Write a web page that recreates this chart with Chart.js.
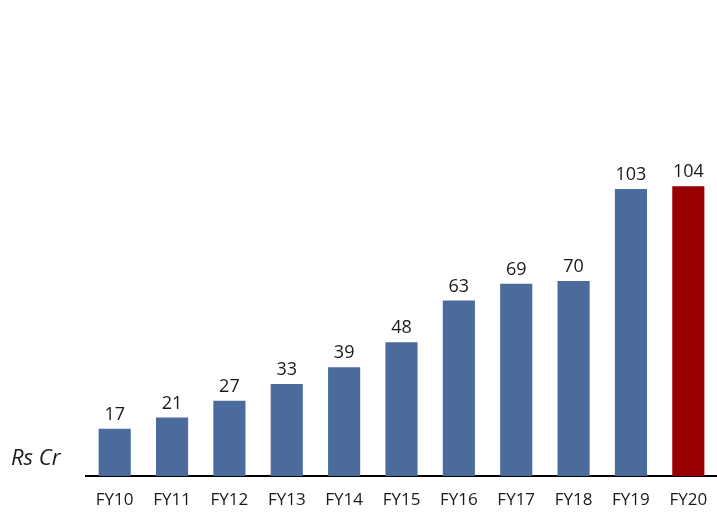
<!DOCTYPE html>
<html>
<head>
<meta charset="utf-8">
<script src="https://cdn.jsdelivr.net/npm/chart.js@4.4.1/dist/chart.umd.min.js"></script>
<style>
  html, body { margin: 0; padding: 0; background: #fff; }
  #wrap { position: relative; width: 717px; height: 512px; }
  #unit { position: absolute; left: 11px; top: 441px; font: italic 22px "Open Sans", sans-serif; color: #1a1a1a; }
</style>
</head>
<body>
<div id="wrap">
  <canvas id="c" width="717" height="512"></canvas>
  <div id="unit">Rs Cr</div>
</div>
<script>
// Revenue by year
const years = ['FY10', 'FY11', 'FY12', 'FY13', 'FY14', 'FY15', 'FY16', 'FY17', 'FY18', 'FY19', 'FY20'];
const values = [17, 21, 27, 33, 39, 48, 63, 69, 70, 103, 104];

const BLUE = '#4A6B9B';
const RED = '#990000';

// value labels above each bar
const valueLabels = {
    id: 'valueLabels',
    afterDatasetsDraw: (chart) => {
        const ctx = chart.ctx;
        const meta = chart.getDatasetMeta(0);
        ctx.save();
        ctx.font = '18px "Open Sans", sans-serif';
        ctx.fillStyle = '#1a1a1a';
        ctx.textAlign = 'center';
        ctx.textBaseline = 'bottom';
        meta.data.forEach((bar, i) => {
            ctx.fillText(values[i], bar.x, bar.y - 5);
        });
        ctx.restore();
    }
};

new Chart(document.getElementById('c'), {
    type: 'bar',
    data: {
        labels: years,
        datasets: [{
            data: values,
            backgroundColor: values.map((v, i) => i === values.length - 1 ? RED : BLUE),
            barPercentage: 0.56,
            categoryPercentage: 1.0
        }]
    },
    options: {
        responsive: false,
        animation: false,
        layout: { padding: { left: 86, top: 58, right: 0, bottom: 0 } },
        plugins: { legend: { display: false }, tooltip: { enabled: false } },
        scales: {
            x: {
                grid: { display: false },
                border: { color: '#000', width: 2 },
                ticks: { color: '#1a1a1a', font: { family: 'Open Sans', size: 17 }, padding: 6 },
                afterFit: (scale) => { scale.height = 36; }
            },
            y: {
                display: false,
                min: 0,
                max: 150
            }
        }
    },
    plugins: [valueLabels]
});
</script>
</body>
</html>
